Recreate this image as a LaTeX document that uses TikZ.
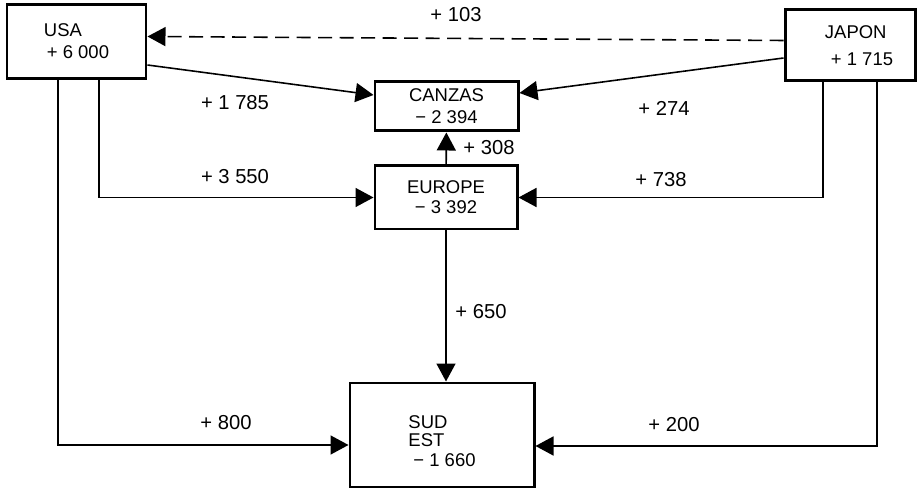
\documentclass[tikz,border=0pt]{standalone}
\usepackage{fontspec}
\setmainfont{Liberation Sans}
\usepackage{tikz}
\usetikzlibrary{arrows.meta}

\begin{document}
\begin{tikzpicture}[
          x=0.2mm, y=-0.2mm,
          font=\fontsize{10.5}{12.5}\selectfont,
          zone/.style={draw, line width=1.7pt, inner sep=0pt},
          flux/.style={-{Triangle[length=3.6mm, width=3.8mm]}, line width=0.9pt},
          lbl/.style={font=\fontsize{11.5}{13}\selectfont, inner sep=1pt}
        ]
          \useasboundingbox (0,0) rectangle (919,492);
          % zones
          \node[zone, minimum width=27.8mm, minimum height=14.8mm, align=left] (usa) at (76.5,41.5) {USA\\\hspace*{0.6mm}+ 6 000};
          \node[zone, minimum width=26mm, minimum height=14.2mm, align=left] (japon) at (850,45.5) {\hspace*{3.6mm}JAPON\\[1mm]\hspace*{4.8mm}+ 1 715};
          \node[zone, minimum width=28.6mm, minimum height=9.8mm, align=center] (canzas) at (446.5,106.5) {CANZAS\\− 2 394};
          \node[zone, minimum width=28.4mm, minimum height=12.6mm, align=center] (europe) at (446,197.5) {EUROPE\\[-1pt]− 3 392};
          \node[zone, minimum width=36.8mm, minimum height=20.8mm, align=left] (sud) at (442,435) {\rule{0pt}{5mm}SUD\\[-2pt]EST\\[-1pt]\hspace*{1mm}− 1 660};
          % flux
          \draw[flux, dashed, dash pattern=on 2.8mm off 1.5mm] ([yshift=1mm]japon.west) -- ([yshift=1mm]usa.east);
          \draw[flux] ([yshift=-4.7mm]usa.east) -- ([yshift=2.3mm]canzas.west);
          \draw[flux] ([yshift=-2.5mm]japon.west) -- ([yshift=2.7mm]canzas.east);
          \draw[flux] (europe) -- (canzas);
          \draw[flux] ([xshift=4.5mm]usa.south) |- (europe.west);
          \draw[flux] ([xshift=-5.4mm]japon.south) |- (europe.east);
          \draw[flux] (europe.south) -- (europe.south |- sud.north);
          \draw[flux] ([xshift=-3.7mm]usa.south) |- ([yshift=-2mm]sud.west);
          \draw[flux] ([xshift=5.4mm]japon.south) |- ([yshift=-2.2mm]sud.east);
          % valeurs
          \node[lbl] (v103) at (456,15) {+ 103};
          \node[lbl] (v1785) at (235,103) {+ 1 785};
          \node[lbl] (v274) at (664,108) {+ 274};
          \node[lbl] (v308) at (489,148) {+ 308};
          \node[lbl] (v3550) at (235,177) {+ 3 550};
          \node[lbl] (v738) at (661,180) {+ 738};
          \node[lbl] (v650) at (481,312) {+ 650};
          \node[lbl] (v800) at (226,423) {+ 800};
          \node[lbl] (v200) at (674,425) {+ 200};
        \end{tikzpicture}
\end{document}
